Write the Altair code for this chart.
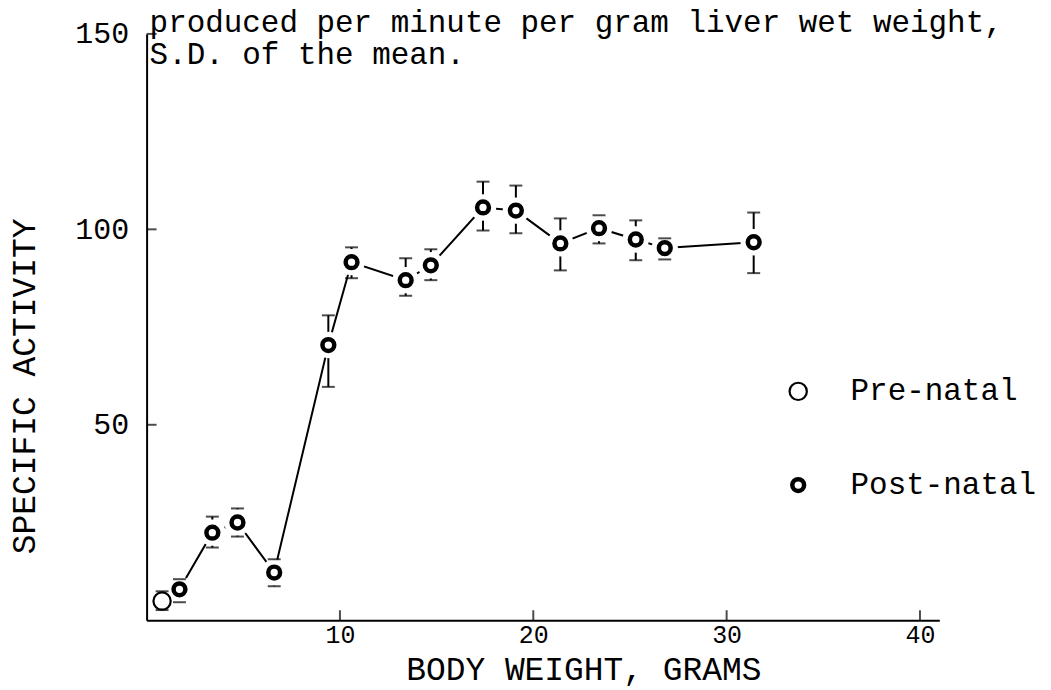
import altair as alt
import pandas as pd

FONT = "Liberation Mono"

# ---- data ----
groups = ["Pre-natal", "Post-natal"]

pre_x = [0.8]
pre_y = [4.9]
pre_lo = [2.6]
pre_hi = [7.4]

post_x = [1.7, 3.4, 4.7, 6.6, 9.4, 10.6, 13.4, 14.7, 17.4, 19.1, 21.4, 23.4, 25.3, 26.8, 31.4]
post_y = [7.9, 22.4, 25.0, 12.2, 70.4, 91.6, 87.0, 90.8, 105.6, 104.8, 96.4, 100.3, 97.4, 95.2, 96.7]
post_lo = [4.6, 18.6, 21.4, 8.7, 59.7, 87.5, 83.0, 87.0, 99.7, 99.0, 89.5, 96.4, 92.1, 92.3, 88.8]
post_hi = [10.5, 26.5, 28.6, 15.6, 78.0, 95.4, 92.6, 94.9, 112.2, 111.2, 102.8, 103.6, 102.3, 97.7, 104.3]

x_ticks = [10, 20, 30, 40]
y_ticks = [50, 100, 150]
title_lines = ["produced per minute per gram liver wet weight,", "S.D. of the mean."]
x_title = "BODY WEIGHT, GRAMS"
y_title = "SPECIFIC ACTIVITY"

# ---- tables ----
pre = pd.DataFrame({"x": pre_x, "y": pre_y, "lo": pre_lo, "hi": pre_hi, "group": groups[0]})
post = pd.DataFrame({"x": post_x, "y": post_y, "lo": post_lo, "hi": post_hi, "group": groups[1]})
df = pd.concat([pre, post], ignore_index=True)
xt = pd.DataFrame({"t": x_ticks})
yt = pd.DataFrame({"t": y_ticks})

W, H = 795, 588

xs = alt.Scale(domain=[0, 41], nice=False, zero=False)
ys = alt.Scale(domain=[0, 150], nice=False, zero=False)

xaxis = alt.Axis(
    values=x_ticks, grid=False, ticks=False, domainColor="black", domainWidth=2,
    labelFont=FONT, labelFontSize=25, labelColor="black", labelPadding=2,
    titleFont=FONT, titleFontSize=33, titleFontWeight="normal", titleColor="black",
    titleX=438, titleY=49, titleAlign="center", titleBaseline="middle",
)
yaxis = alt.Axis(
    values=y_ticks, grid=False, ticks=False, domainColor="black", domainWidth=2,
    labelFont=FONT, labelFontSize=30, labelColor="black", labelPadding=18,
    titleFont=FONT, titleFontSize=33, titleFontWeight="normal", titleColor="black",
    titleX=-122, titleY=353, titleAngle=270, titleAlign="center", titleBaseline="middle",
)

X = alt.X("x:Q", scale=xs, axis=xaxis, title=x_title)
Y = alt.Y("y:Q", scale=ys, axis=yaxis, title=y_title)

bars = alt.Chart(df).mark_rule(color="black", strokeWidth=2).encode(
    x=X, y=alt.Y("lo:Q", scale=ys), y2="hi:Q"
)
line = alt.Chart(post).mark_line(color="black", strokeWidth=2).encode(x=X, y=Y)
halo = alt.Chart(df).mark_circle(color="white", opacity=1, size=700).encode(x=X, y=Y)
cap_lo = alt.Chart(df).mark_tick(orient="horizontal", color="black", size=13, thickness=2).encode(
    x=X, y=alt.Y("lo:Q", scale=ys)
)
cap_hi = alt.Chart(df).mark_tick(orient="horizontal", color="black", size=13, thickness=2).encode(
    x=X, y=alt.Y("hi:Q", scale=ys)
)

leg = alt.Legend(
    title=None, orient="none", legendX=638, legendY=343, direction="vertical",
    labelFont=FONT, labelFontSize=31, labelColor="black", labelOffset=37, labelLimit=400,
    rowPadding=62, padding=0, symbolType="circle", symbolFillColor="white",
    symbolStrokeColor="black", symbolStrokeWidth=3, symbolOpacity=1,
)
points = alt.Chart(df).mark_point(
    shape="circle", fill="white", opacity=1, fillOpacity=1
).encode(
    x=X, y=Y,
    stroke=alt.Stroke("group:N", scale=alt.Scale(domain=groups, range=["black", "black"]), legend=leg),
    size=alt.Size("group:N", scale=alt.Scale(domain=groups, range=[300, 140]), legend=leg),
    strokeWidth=alt.StrokeWidth("group:N", scale=alt.Scale(domain=groups, range=[2.2, 4.5]), legend=None),
)

xtick_marks = alt.Chart(xt).mark_tick(orient="vertical", color="black", size=10, thickness=2, yOffset=-5).encode(
    x=alt.X("t:Q", scale=xs), y=alt.datum(0)
)
ytick_marks = alt.Chart(yt).mark_tick(orient="horizontal", color="black", size=10, thickness=2, xOffset=5).encode(
    y=alt.Y("t:Q", scale=ys), x=alt.datum(0)
)

chart = alt.layer(bars, line, halo, cap_lo, cap_hi, points, xtick_marks, ytick_marks).properties(
    width=W, height=H,
    autosize=alt.AutoSizeParams(type="none"),
    padding={"left": 139, "top": 25, "right": 104, "bottom": 70},
    background="white",
    title=alt.TitleParams(
        text=title_lines, anchor="start", frame="group", font=FONT, fontSize=31,
        fontWeight="normal", color="black", lineHeight=32, baseline="alphabetic",
        offset=-76, dx=3,
    ),
).configure_view(stroke=None)

chart.save("out.html", embed_options={"renderer": "svg", "actions": False})
